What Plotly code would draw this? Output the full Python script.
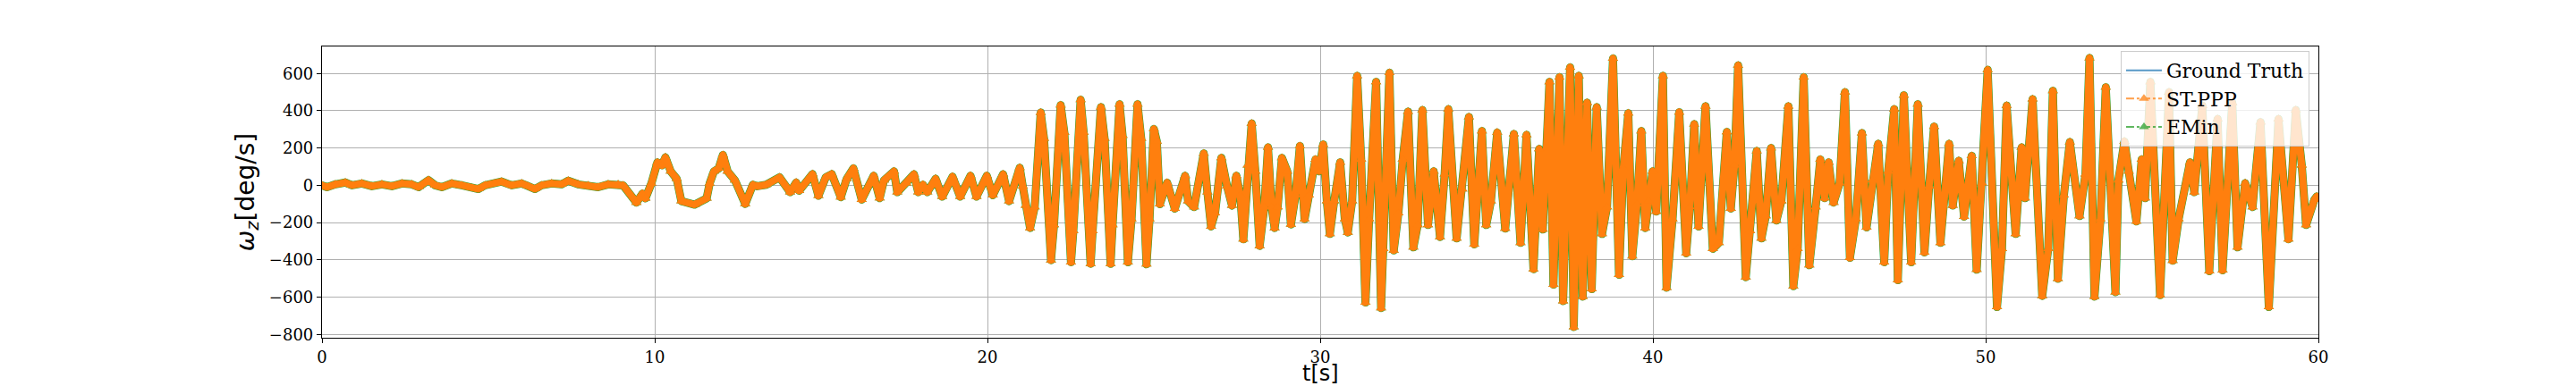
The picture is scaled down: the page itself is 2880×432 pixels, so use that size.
import plotly.graph_objects as go

# time stamps [s] and angular rate omega_z [deg/s] (peaks, troughs, shoulders)
t_s = [
    0.0, 0.15, 0.4, 0.7, 0.9, 1.2, 1.5, 1.8, 2.1, 2.4, 2.7, 2.9, 3.2, 3.4, 3.6, 3.9, 4.2, 4.5, 4.7, 4.9,
    5.2, 5.4, 5.7, 6.0, 6.2, 6.4, 6.6, 6.9, 7.2, 7.4, 7.7, 8.0, 8.3, 8.6, 8.9,
    9.05, 9.45, 9.63, 9.72, 9.90, 10.08, 10.22, 10.32, 10.48, 10.66, 10.80, 11.2, 11.56, 11.65, 11.78, 11.92,
    12.05, 12.19, 12.41, 12.72, 12.95, 13.08, 13.35, 13.75, 14.07, 14.25, 14.34, 14.74, 14.92, 15.14, 15.32,
    15.59, 15.77, 15.97, 16.22, 16.58,
    16.76, 16.89, 17.19, 17.29, 17.56, 17.79, 17.92, 18.06, 18.19, 18.44, 18.64, 18.95, 19.18, 19.49, 19.67,
    19.98, 20.16, 20.47, 20.65, 20.97, 21.06, 21.15, 21.28, 21.42, 21.60, 21.70, 21.91, 22.0, 22.20, 22.31,
    22.51, 22.58, 22.80, 22.89, 23.10, 23.16, 23.41, 23.52, 23.70, 23.76, 23.97, 24.06,
    24.22, 24.33, 24.51, 24.62, 24.78, 24.87, 25.0, 25.09, 25.18, 25.40, 25.63, 25.94, 26.03, 26.21, 26.50,
    26.61, 26.72, 26.84, 27.03, 27.20, 27.35, 27.48, 27.60, 27.69, 27.82, 27.94, 28.05, 28.18, 28.32, 28.43,
    28.54, 28.63, 28.72, 28.85, 29.01, 29.12, 29.26, 29.39, 29.53, 29.66, 29.86, 29.97, 30.09, 30.20, 30.29,
    30.42, 30.60, 30.74, 30.83, 30.96, 31.11, 31.23, 31.36, 31.47,
    31.68, 31.83, 31.90, 32.08, 32.21, 32.35, 32.48, 32.64, 32.80, 32.93, 33.07, 33.24, 33.41, 33.60, 33.74,
    33.85, 34.10, 34.27, 34.47, 34.63, 34.86, 34.99, 35.13, 35.32, 35.56, 35.82, 36.02, 36.20, 36.41, 36.58,
    36.69, 36.89, 37.01, 37.19, 37.30, 37.51, 37.62, 37.77, 37.89, 38.02, 38.16, 38.31, 38.47, 38.62, 38.80,
    38.98,
    39.11, 39.26, 39.38, 39.52, 39.65, 39.77, 39.87, 39.99, 40.10, 40.30, 40.41, 40.59, 40.79, 41.0, 41.11,
    41.24, 41.37, 41.58, 41.80, 41.98, 42.22, 42.34, 42.45, 42.56, 42.79, 42.92, 43.12, 43.26, 43.39, 43.55,
    43.71, 43.86, 44.07, 44.22, 44.35, 44.53, 44.70, 44.89, 45.03, 45.16, 45.28, 45.43, 45.61, 45.77, 45.92,
    46.10, 46.28, 46.42, 46.59, 46.77,
    46.95, 47.07, 47.25, 47.36, 47.54, 47.76, 47.96, 48.16, 48.30, 48.45, 48.64, 48.90, 49.01, 49.19, 49.35,
    49.58, 49.73, 49.89, 50.06, 50.34, 50.49, 50.63, 50.90, 51.08, 51.18, 51.41, 51.70, 51.88, 52.02, 52.17,
    52.35, 52.53, 52.82, 53.00, 53.12, 53.27, 53.45, 53.61, 53.90,
    53.99, 54.17, 54.30, 54.53, 54.69, 54.79, 54.95, 55.24, 55.51, 55.62, 55.80, 56.14, 56.27, 56.51, 56.72,
    56.97, 57.12, 57.41, 57.57, 57.80, 58.02, 58.26, 58.51, 58.80, 59.10, 59.32, 59.50, 59.63, 59.88, 59.95,
]

omega_gt = [
    0, -10, 5, 15, 0, 10, -5, 5, -5, 10, 5, -10, 28, 0, -10, 10, 0, -15, -20, 0,
    10, 20, 0, 10, -5, -20, 0, 10, 5, 25, 5, 0, -10, 5, 5,
    0, -93, -45, -70, 10, 123, 107, 150, 75, 35, -85, -104, -70, 10, 75, 90,
    163, 75, 27, -100, 3, -5, 3, 43, -37, 15, -29, 60, -56, 43, 60,
    -64, 35, 91, -77, 51,
    -69, 27, 75, -37, 11, 59, -37, 3, -37, 35, -61, 46, -61, 51, -61,
    51, -53, 59, -85, 94, -5, -109, -229, -117, 390, 251, -402, -213, 430, 283,
    -413, -245, 459, 283, -421, -245, 419, 251, -421, -213, 435, 267,
    -413, -181, 435, 251, -424, -181, 302, 235, -101, 14, -125, 51, -85, -117, 171,
    -37, -221, -149, 147, -5, -109, 51, -53, -290, 107, 331, 75, -325, -117, 203,
    -117, -229, -117, 147, 75, -210, -53, 211, -181, -53, 139, 75, 219, -85, -261,
    -85, 123, -181, -253, -85, 587, 139, -629, -181,
    555, -658, -341, 603, -349, -149, 139, 395, -333, -213, 403, -213, 75, -277, 59,
    408, -285, -21, 366, -317, 291, -213, -85, 283, -232, 275, -309, 270, -450, 195,
    -237, 555, -533, 579, -621, 632, -760, 587, -597, 443, -557, 419, -261, -117, 680,
    -480,
    91, 387, -381, -101, 291, -229, -85, 75, -141, 587, -549, -181, 392, -365, -117,
    328, -221, 424, -341, -309, 286, -125, 107, 643, -493, -245, 184, -285, -165, 200,
    -189, -85, 424, -541, -341, 579, -429, -117, 139, -69, 123, -93, 11, 499, -389,
    -181, 280, -226, 27, 222,
    -413, 75, 408, -509, 483, -413, 435, -360, -5, 315, -309, 222, -109, 131, -168,
    158, -453, 11, 619, -653, -341, 427, -261, 203, -69, 462, -594, -341, 507, -501,
    -53, 232, -165, 59, 683, -597, -181, 526, -573,
    27, 235, 75, -194, 139, -69, 555, -589, 499, -405, -181, 123, -37, 427, -461,
    355, -456, 443, -333, 11, -117, 339, -653, 355, -290, 403, 107, -213, -77, -60,
]

# the three estimates coincide with the ground truth at this scale
omega_stppp = omega_gt
omega_emin = omega_gt

series_names = ["Ground Truth", "ST-PPP", "EMin"]
x_ticks = [0, 10, 20, 30, 40, 50, 60]
y_ticks = [-800, -600, -400, -200, 0, 200, 400, 600]
x_label = "t[s]"
y_label = "<i>ω</i><sub><i>z</i></sub>[deg/s]"

BLUE, ORANGE, GREEN = "#1f77b4", "#ff7f0e", "#2ca02c"

fig = go.Figure()

# visible data traces
fig.add_trace(go.Scatter(x=t_s, y=omega_gt, mode="lines", line=dict(color=BLUE, width=1.5),
                         showlegend=False, hoverinfo="skip"))
fig.add_trace(go.Scatter(x=t_s, y=omega_emin, mode="lines+markers",
                         line=dict(color=GREEN, width=9),
                         marker=dict(symbol="triangle-up", size=10, color=GREEN),
                         showlegend=False, hoverinfo="skip"))
fig.add_trace(go.Scatter(x=t_s, y=omega_stppp, mode="lines+markers",
                         line=dict(color=ORANGE, width=8),
                         marker=dict(symbol="triangle-up", size=10, color=ORANGE),
                         showlegend=False, hoverinfo="skip"))

# legend entries
fig.add_trace(go.Scatter(x=[None], y=[None], mode="lines", name=series_names[0],
                         line=dict(color=BLUE, width=2), opacity=0.75))
fig.add_trace(go.Scatter(x=[None], y=[None], mode="lines+markers", name=series_names[1],
                         line=dict(color=ORANGE, width=2, dash="dashdot"),
                         marker=dict(symbol="triangle-up", size=10, color=ORANGE), opacity=0.75))
fig.add_trace(go.Scatter(x=[None], y=[None], mode="lines+markers", name=series_names[2],
                         line=dict(color=GREEN, width=2, dash="dashdot"),
                         marker=dict(symbol="triangle-up", size=10, color=GREEN), opacity=0.75))

axis_common = dict(
    showline=True, linecolor="black", linewidth=1.2, mirror=True,
    ticks="outside", ticklen=5, tickwidth=1, tickcolor="black",
    showgrid=True, gridcolor="#b0b0b0", gridwidth=1, zeroline=False,
    automargin=False,
    tickfont=dict(family="DejaVu Serif", size=18, color="black"),
)

fig.update_xaxes(range=[0, 60], tickvals=x_ticks, **axis_common)
fig.update_yaxes(range=[-818, 745], tickvals=y_ticks,
                 title=dict(text=y_label,
                            font=dict(family="DejaVu Sans", size=28, color="black"), standoff=8),
                 **axis_common)

# x-axis title, just below the tick labels at the figure's lower edge
fig.add_annotation(text=x_label, xref="paper", yref="paper", x=0.5, y=0,
                   xanchor="center", yanchor="top", yshift=-24, showarrow=False,
                   font=dict(family="DejaVu Sans", size=24, color="black"))

fig.update_layout(
    width=2880, height=432,
    margin=dict(l=360, r=288, t=52, b=54, pad=0),
    paper_bgcolor="white", plot_bgcolor="white",
    legend=dict(x=0.9955, y=0.985, xanchor="right", yanchor="top",
                bgcolor="rgba(255,255,255,0.8)", bordercolor="#cccccc", borderwidth=1,
                font=dict(family="DejaVu Serif", size=22, color="black"),
                itemwidth=40),
)

post = """
document.body.style.margin='0';
document.querySelectorAll('.scatterlayer path.js-line').forEach(function(p){
  p.style.strokeLinejoin='round'; p.style.strokeLinecap='round';
});
"""

fig.write_html("out.html", config={"displayModeBar": False}, post_script=post)
